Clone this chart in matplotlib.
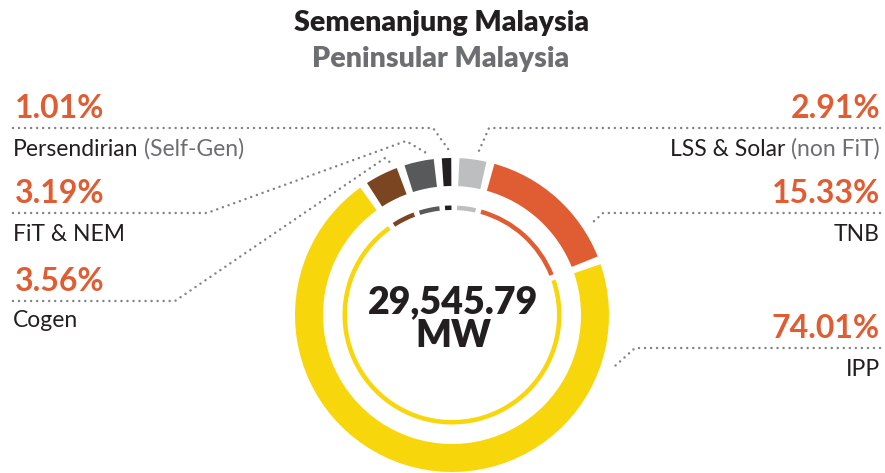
import numpy as np
import matplotlib.pyplot as plt
from matplotlib.patches import Wedge

# generation capacity share, clockwise from the top of the ring
names = ['Persendirian', 'LSS & Solar', 'TNB', 'IPP', 'Cogen', 'FiT & NEM']
notes = ['(Self-Gen)', '(non FiT)', '', '', '', '']
shares = [1.01, 2.91, 15.33, 74.01, 3.56, 3.19]
colors = ['#231f20', '#bcbec0', '#e05c32', '#f8d60c', '#7a4520', '#58595b']
total_mw = '29,545.79'

title_ms = 'Semenanjung Malaysia'
title_en = 'Peninsular Malaysia'

ORANGE = '#e05c32'
GREY = '#6d6e71'
DOT = '#808285'

plt.rcParams['font.family'] = ['Lato', 'DejaVu Sans']

fig = plt.figure(figsize=(8.85, 4.73), dpi=100)
ax = fig.add_axes([0, 0, 1, 1])
ax.set_xlim(0, 885)
ax.set_ylim(473, 0)
ax.set_aspect('equal')
ax.axis('off')

cx, cy = 452, 315
gap = 3.0
span = 360 - gap * len(shares)

# angles measured clockwise from 12 o'clock
phi = -shares[0] / 100 * span / 2 - 2
for s, c in zip(shares, colors):
    a = s / 100 * span
    t1, t2 = phi - 90, phi + a - 90   # inverted y axis -> clockwise on screen
    ax.add_patch(Wedge((cx, cy), 157, t1, t2, width=28, color=c, lw=0))
    ax.add_patch(Wedge((cx, cy), 109.5, t1, t2, width=4.5, color=c, lw=0))
    phi += a + gap

# centre total
ax.text(cx + 1, 313, total_mw, ha='center', va='baseline', fontsize=27,
        fontweight='heavy', color='#231f20')
ax.text(cx + 1, 347, 'MW', ha='center', va='baseline', fontsize=27,
        fontweight='heavy', color='#231f20')

# titles
ax.text(442, 31, title_ms, ha='center', va='baseline', fontsize=20.5,
        fontweight='heavy', color='#231f20')
ax.text(441, 67, title_en, ha='center', va='baseline', fontsize=20.5,
        fontweight='heavy', color=GREY)

# label layout: side, dotted line y, leader path
layout = {
    'Persendirian': ('L', 128, [(13, 128), (433, 128), (451, 153)]),
    'FiT & NEM': ('L', 213, [(13, 213), (207, 213), (406, 141), (428, 154)]),
    'Cogen': ('L', 301, [(13, 301), (175, 301), (385, 158), (393, 165)]),
    'LSS & Solar': ('R', 128, [(880, 128), (489, 128), (478, 153)]),
    'TNB': ('R', 213, [(880, 213), (603, 213), (592, 223)]),
    'IPP': ('R', 348, [(880, 348), (635, 348), (615, 366)]),
}

for name, note, s in zip(names, notes, shares):
    side, ly, path = layout[name]
    xs, ys = zip(*path)
    ax.plot(xs, ys, color=DOT, lw=1.8, linestyle=(0, (0.01, 2.4)),
            dash_capstyle='round', solid_capstyle='round')
    x0 = 15 if side == 'L' else 880
    ha = 'left' if side == 'L' else 'right'
    ax.text(x0, ly - 10, f'{s:.2f}%', ha=ha, va='baseline', fontsize=23,
            fontweight='bold', color=ORANGE)
    by = ly + 28 if name != 'Cogen' else ly + 26
    if side == 'L':
        t = ax.text(13, by, name, ha='left', va='baseline', fontsize=16.5,
                    color='#231f20')
        if note:
            ax.annotate(note, xy=(1, 0), xycoords=t, xytext=(4, 0),
                        textcoords='offset points', ha='left', va='bottom',
                        fontsize=16.5, color=GREY)
    else:
        if note:
            t = ax.text(880, by, note, ha='right', va='baseline', fontsize=16.5,
                        color=GREY)
            ax.annotate(name, xy=(0, 0), xycoords=t, xytext=(-4, 0),
                        textcoords='offset points', ha='right', va='bottom',
                        fontsize=16.5, color='#231f20')
        else:
            ax.text(880, by, name, ha='right', va='baseline', fontsize=16.5,
                    color='#231f20')

fig.savefig('out.png', dpi=100)
